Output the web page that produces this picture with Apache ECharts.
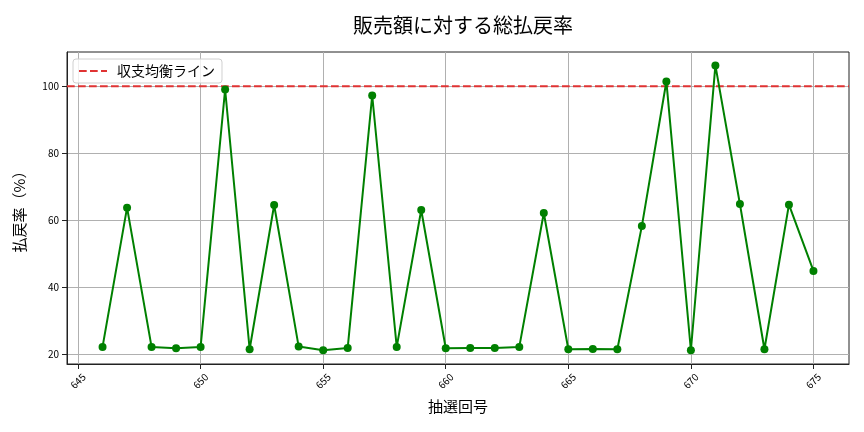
<!DOCTYPE html>
<html><head><meta charset="utf-8">
<script src="https://cdn.jsdelivr.net/npm/echarts@6/dist/echarts.min.js"></script>
<style>html,body{margin:0;padding:0;background:#fff}#c{width:864px;height:432px}</style>
</head><body><div id="c"></div>
<script>
const draws = [646,647,648,649,650,651,652,653,654,655,656,657,658,659,660,661,662,663,664,665,666,667,668,669,670,671,672,673,674,675];
const rates = [22.1,63.7,22.1,21.7,22.1,99.0,21.4,64.5,22.2,21.1,21.8,97.2,22.1,63.0,21.7,21.8,21.8,22.1,62.1,21.4,21.5,21.4,58.2,101.4,21.1,106.2,64.8,21.4,64.6,44.8];
const xTicks = [645,650,655,660,665,670,675];
const yTicks = [20,40,60,80,100];
const breakEven = 100;
const titleText = '販売額に対する総払戻率';
const xName = '抽選回号';
const yName = '払戻率（%）';
const lineName = '収支均衡ライン';

const xMin = 644.55, xMax = 676.45, yMin = 17.0, yMax = 110.2;
const font = "'Noto Sans CJK JP', 'Noto Sans', sans-serif";
const chart = echarts.init(document.getElementById('c'), null, {renderer:'canvas'});
chart.setOption({
  animation:false,
  backgroundColor:'#fff',
  textStyle:{fontFamily:font},
  title:{text:titleText,left:458,top:10,textAlign:'center',
    textStyle:{fontSize:20,fontWeight:'normal',color:'#000',fontFamily:font}},
  grid:{left:67,right:15,top:52,bottom:68,outerBoundsMode:'none',containLabel:false,
    show:true,borderColor:'#222',borderWidth:1,backgroundColor:'transparent'},
  legend:{data:[{name:lineName,itemStyle:{opacity:0}}],left:73,top:59,orient:'vertical',
    backgroundColor:'rgba(255,255,255,0.8)',borderColor:'#d0d0d0',borderWidth:1,borderRadius:3,
    padding:[5,7,5,5],itemWidth:28,itemHeight:12,itemGap:6,
    textStyle:{fontSize:14,color:'#000',fontFamily:font,padding:[0,0,0,5]}},
  xAxis:{type:'value',min:xMin,max:xMax,
    name:xName,nameLocation:'middle',nameGap:35,
    nameTextStyle:{fontSize:15,color:'#000',fontFamily:font},
    axisLine:{show:true,lineStyle:{color:'#222',width:1}},
    axisTick:{show:true,length:5,lineStyle:{color:'#222'},customValues:xTicks},
    axisLabel:{customValues:xTicks,rotate:45,align:'center',verticalAlign:'middle',margin:17,
      fontSize:10,color:'#000',fontFamily:font},
    splitLine:{show:true,lineStyle:{color:'#b0b0b0',width:1}}},
  yAxis:{type:'value',min:yMin,max:yMax,
    name:yName,nameLocation:'middle',nameGap:40,
    nameTextStyle:{fontSize:15,color:'#000',fontFamily:font},
    axisLine:{show:true,lineStyle:{color:'#222',width:1}},
    axisTick:{show:true,length:5,lineStyle:{color:'#222'},customValues:yTicks},
    axisLabel:{customValues:yTicks,fontSize:10,color:'#000',margin:8,fontFamily:font},
    splitLine:{show:true,lineStyle:{color:'#b0b0b0',width:1}}},
  series:[
    {type:'line',name:'rate',data:draws.map((d,i)=>[d,rates[i]]),
      symbol:'circle',symbolSize:8,
      lineStyle:{color:'#008000',width:2},itemStyle:{color:'#008000'},z:3},
    {type:'line',name:lineName,data:[[xMin,breakEven],[xMax,breakEven]],
      symbol:'none',lineStyle:{color:'#e03333',width:2,type:[7.7,3.3]},itemStyle:{color:'#e03333'},z:2}
  ]
});
</script></body></html>
